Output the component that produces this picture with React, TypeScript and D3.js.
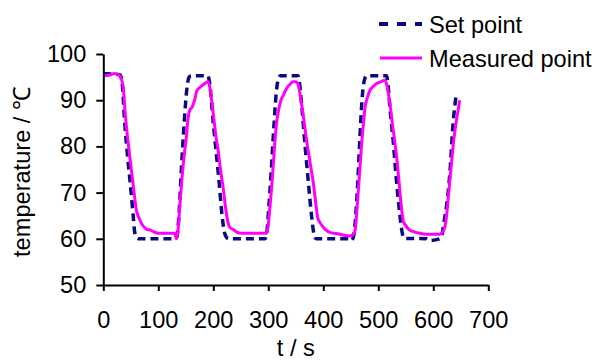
import React, { useEffect, useRef } from "react";
import * as d3 from "d3";

const xTicks = [0, 100, 200, 300, 400, 500, 600, 700];
const yTicks = [50, 60, 70, 80, 90, 100];

const setT = [0, 10, 30, 34, 39, 44, 49, 54, 57, 60, 64, 131, 134, 138, 142, 147, 152, 156, 160, 190, 193, 200, 205, 210, 216, 220, 224, 228, 294, 297, 301, 305, 310, 314, 318, 322, 354, 357, 361, 367, 373, 379, 383, 387, 446, 451, 455, 459, 463, 467, 471, 475, 479, 515, 518, 521, 527, 533, 539, 544, 548, 588, 593, 612, 616, 620, 624, 630, 636, 642];
const setV = [95.7, 95.7, 95.5, 94, 85, 78, 72, 65.5, 61.5, 60.3, 60, 60, 60.5, 66, 75, 85, 92.5, 95, 95.3, 95.3, 94, 85, 79, 73, 65, 61.5, 60.3, 60, 60, 61, 67, 74, 84, 91, 94.5, 95.3, 95.3, 93.5, 88.5, 80, 72, 64.6, 61, 60, 60, 59.6, 60.5, 65, 73, 83, 91, 94.5, 95.3, 95.3, 93, 88.5, 81.3, 72.6, 65.4, 61, 60.1, 60, 59.6, 60, 61, 64, 67, 74, 85, 91.5];

const measT = [0, 10, 20, 28, 32, 36, 40, 44, 48, 52, 56, 60, 65, 70, 76, 80, 85, 92, 100, 130, 133, 136, 139, 143, 147, 151, 154, 157, 162, 166, 170, 176, 182, 191, 194, 197, 201, 205, 209, 213, 218, 222, 226, 230, 236, 242, 251, 297, 300, 303, 306, 309, 312, 315, 319, 323, 327, 333, 339, 345, 350, 354, 358, 362, 366, 370, 374, 378, 382, 386, 390, 394, 400, 406, 412, 430, 440, 448, 455, 458, 461, 464, 467, 470, 473, 476, 480, 485, 491, 497, 505, 512, 516, 519, 522, 526, 530, 534, 538, 541, 545, 550, 556, 563, 575, 588, 612, 617, 621, 625, 628, 632, 636, 640, 644, 648];
const measV = [95.3, 95.4, 95.8, 95.5, 94.8, 93, 87, 82, 78, 74, 70, 66.3, 64.5, 63.2, 62.3, 62, 61.9, 61.5, 61.2, 61.2, 60, 62, 67, 73, 78, 82, 86, 87.8, 88.6, 90, 92, 92.8, 93.4, 94, 92.5, 90, 86, 82, 79, 75, 71, 67, 64, 62.5, 62, 61.5, 61.2, 61.2, 63, 67, 71, 76, 81, 85, 88, 90, 91, 92.5, 93.4, 94, 94, 93.5, 91, 88, 84.5, 81, 78, 75, 72, 68, 64.5, 63.5, 62.5, 61.8, 61.4, 61, 60.7, 60.6, 61, 62, 66, 71, 76, 81, 85, 88.5, 90.5, 92.2, 93, 93.6, 94, 94.3, 93, 91, 88.5, 84.5, 81, 77, 72, 68, 64, 62.8, 62, 61.6, 61.2, 61, 61, 61.5, 62.5, 66, 70, 75, 80, 84, 87, 90];

const FONT = "'Liberation Sans', Arial, sans-serif";
const FS = "23.6px";

export default function App() {
  const ref = useRef<SVGSVGElement>(null);

  useEffect(() => {
    const svg = d3.select(ref.current);
    svg.selectAll("*").remove();

    const x = d3.scaleLinear().domain([0, 700]).range([103.3, 488.3]);
    const y = d3.scaleLinear().domain([50, 100]).range([285, 54]);

    const line = d3
      .line<[number, number]>()
      .x((d) => x(d[0]))
      .y((d) => y(d[1]))
      .curve(d3.curveMonotoneX);

    const setData: [number, number][] = setT.map((t, i) => [t, setV[i]]);
    const measData: [number, number][] = measT.map((t, i) => [t, measV[i]]);

    svg
      .append("path")
      .attr("d", line(setData))
      .attr("fill", "none")
      .attr("stroke", "#0b0b80")
      .attr("stroke-width", 3.5)
      .attr("stroke-dasharray", "8 5");

    svg
      .append("path")
      .attr("d", line(measData))
      .attr("fill", "none")
      .attr("stroke", "#ff00ff")
      .attr("stroke-width", 3);

    const gx = svg
      .append("g")
      .attr("transform", `translate(0,${y(50)})`)
      .call(
        d3
          .axisBottom(x)
          .tickValues(xTicks)
          .tickSize(6)
          .tickSizeOuter(0)
          .tickPadding(20)
          .tickFormat(d3.format("d"))
      );
    const gy = svg
      .append("g")
      .attr("transform", `translate(${x(0)},0)`)
      .call(
        d3
          .axisLeft(y)
          .tickValues(yTicks)
          .tickSize(7)
          .tickSizeOuter(0)
          .tickPadding(10)
          .tickFormat(d3.format("d"))
      );
    [gx, gy].forEach((g) => {
      g.selectAll("path,line").attr("stroke", "#000").attr("stroke-width", 2);
      g.selectAll("text")
        .attr("fill", "#000")
        .style("font-family", FONT)
        .style("font-size", FS);
    });

    svg
      .append("text")
      .attr("x", 295.8)
      .attr("y", 356)
      .attr("text-anchor", "middle")
      .style("font-family", FONT)
      .style("font-size", FS)
      .text("t / s");

    svg
      .append("text")
      .attr("transform", "translate(30,172) rotate(-90)")
      .attr("text-anchor", "middle")
      .style("font-family", FONT)
      .style("font-size", FS)
      .text("temperature / ℃");

    const lg = svg.append("g");
    lg.append("line")
      .attr("x1", 379)
      .attr("x2", 422)
      .attr("y1", 24)
      .attr("y2", 24)
      .attr("stroke", "#0b0b80")
      .attr("stroke-width", 4)
      .attr("stroke-dasharray", "9 9");
    lg.append("text")
      .attr("x", 429)
      .attr("y", 33)
      .style("font-family", FONT)
      .style("font-size", FS)
      .text("Set point");
    lg.append("line")
      .attr("x1", 380)
      .attr("x2", 422)
      .attr("y1", 58)
      .attr("y2", 58)
      .attr("stroke", "#ff00ff")
      .attr("stroke-width", 3);
    lg.append("text")
      .attr("x", 429)
      .attr("y", 67)
      .style("font-family", FONT)
      .style("font-size", FS)
      .text("Measured point");
  }, []);

  return (
    <svg
      ref={ref}
      width={597}
      height={360}
      style={{ position: "absolute", left: 0, top: 0, background: "#fff" }}
    />
  );
}
